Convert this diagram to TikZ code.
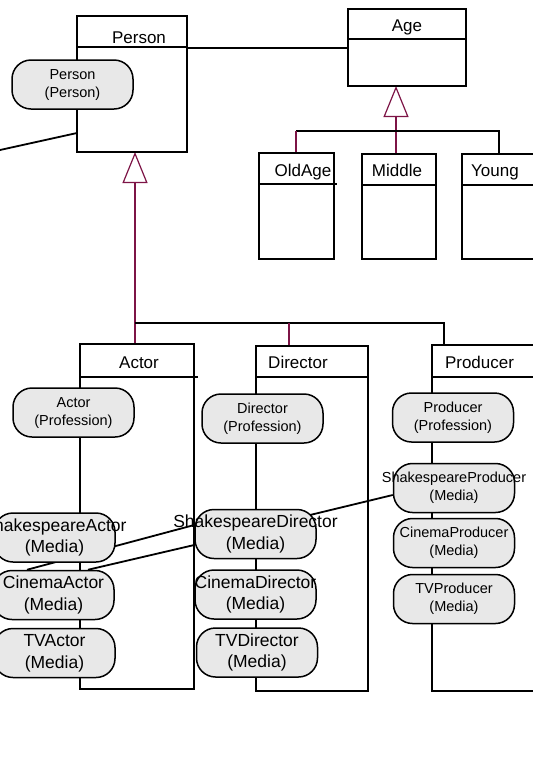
\documentclass[tikz,border=0pt]{standalone}
\usepackage{fontspec}
\setmainfont{Liberation Sans}
\usetikzlibrary{arrows.meta,calc}
\pgfdeclarelayer{back}
\pgfsetlayers{back,main}

\definecolor{genred}{RGB}{125,20,70}
\definecolor{rolefill}{RGB}{232,232,232}

\newcommand\titlefont{\fontsize{17}{20}\selectfont}
\newcommand\rolefont{\fontsize{14.5}{18}\selectfont}
\newcommand\mediafont{\fontsize{17.5}{21.5}\selectfont}
% two centred lines that may overflow the rounded box
\newcommand\twoline[2]{\makebox[0pt]{\begin{tabular}{@{}c@{}}#1\\#2\end{tabular}}}

\tikzset{
  classbox/.style={draw, line width=1.9pt, anchor=north west, inner sep=0pt, outer sep=0pt},
  hdr/.style={line width=1.9pt},
  ttl/.style={anchor=base, inner sep=0pt, font=\titlefont},
  role/.style={draw, line width=1.5pt, fill=rolefill, rounded corners=19pt,
    minimum width=121pt, minimum height=49pt, inner sep=0pt, font=\rolefont},
  media/.style={role, font=\mediafont},
  assoc/.style={line width=1.8pt},
  genline/.style={draw=genred, line width=1.2pt},
  genhead/.style={genline, -{Triangle[length=31pt, width=25pt, fill=white]}},
}

\begin{document}
\begin{tikzpicture}[x=1pt,y=-1pt]
\useasboundingbox (0,0) rectangle (533,780);
\clip (0,0) rectangle (533,780);

% ---- classes ----
\node[classbox, minimum width=110pt, minimum height=136pt] (person) at (77,16) {};
\draw[hdr] ($(person.north west)+(0,31)$) -- ($(person.north east)+(0,31)$);
\node[ttl] (personT) at (139,43) {Person};

\node[classbox, minimum width=118pt, minimum height=77pt] (age) at (348,9) {};
\draw[hdr] ($(age.north west)+(0,30)$) -- ($(age.north east)+(0,30)$);
\node[ttl] (ageT) at (407,31) {Age};

\node[classbox, minimum width=75pt, minimum height=106pt] (oldage) at (259,153) {};
\draw[hdr] ($(oldage.north west)+(0,31)$) -- ($(oldage.north east)+(3,31)$);
\node[ttl] (oldageT) at (303,176) {OldAge};

\node[classbox, minimum width=74pt, minimum height=105pt] (middle) at (362,154) {};
\draw[hdr] ($(middle.north west)+(0,31)$) -- ($(middle.north east)+(0,31)$);
\node[ttl] (middleT) at (397,176) {Middle};

\node[classbox, minimum width=100pt, minimum height=105pt] (young) at (462,154) {};
\draw[hdr] ($(young.north west)+(0,31)$) -- ($(young.north east)+(0,31)$);
\node[ttl] (youngT) at (495,176) {Young};

\node[classbox, minimum width=114pt, minimum height=345pt] (actor) at (80,344) {};
\draw[hdr] ($(actor.north west)+(0,33)$) -- ($(actor.north east)+(4,33)$);
\node[ttl] (actorT) at (139,368) {Actor};

\node[classbox, minimum width=112pt, minimum height=345pt] (director) at (256,346) {};
\draw[hdr] ($(director.north west)+(0,31)$) -- ($(director.north east)+(0,31)$);
\node[ttl] (directorT) at (298,368) {Director};

\node[classbox, minimum width=120pt, minimum height=346pt] (producer) at (432,345) {};
\draw[hdr] ($(producer.north west)+(0,32)$) -- ($(producer.north east)+(0,32)$);
\node[ttl] (producerT) at (479.5,368) {Producer};

% ---- roles ----
\node[role] (rPerson) at (72.5,84.5) {\twoline{Person}{(Person)}};
\node[role] (rActor) at (73.5,412.5) {\twoline{Actor}{(Profession)}};
\node[role] (rDirector) at (262.5,418.5) {\twoline{Director}{(Profession)}};
\node[role] (rProducer) at (453,417.5) {\twoline{Producer}{(Profession)}};

\node[media] (shActor) at (54.5,537.5) {\twoline{ShakespeareActor}{(Media)}};
\node[media] (cnActor) at (53.5,595) {\twoline{CinemaActor}{(Media)}};
\node[media] (tvActor) at (54.5,653) {\twoline{TVActor}{(Media)}};

\node[media] (shDirector) at (255.5,534) {\twoline{ShakespeareDirector}{(Media)}};
\node[media] (cnDirector) at (255.5,594.5) {\twoline{CinemaDirector}{(Media)}};
\node[media] (tvDirector) at (257,652.5) {\twoline{TVDirector}{(Media)}};

\node[role] (shProducer) at (454,488) {\twoline{ShakespeareProducer}{(Media)}};
\node[role] (cnProducer) at (454,543) {\twoline{CinemaProducer}{(Media)}};
\node[role] (tvProducer) at (454,599) {\twoline{TVProducer}{(Media)}};

% ---- connectors ----
\begin{pgfonlayer}{back}
  \coordinate (assocY) at (0,48);
  \draw[assoc] (person.east |- assocY) -- (age.west |- assocY);

  \coordinate (leftEnd) at (0,150);
  \draw[assoc] (leftEnd) -- ($(person.south west)+(0,-19)$);

  % Person generalisation
  \draw[genhead] ($(actor.north west)+(55,0)$) -- ($(person.south west)+(58,0)$);
  \coordinate (busL) at (135,323);
  \coordinate (busR) at (444,323);
  \draw[assoc] (busL) -- (busR) -- (busR |- producer.north);
  \draw[genline] ($(director.north west)+(33,0)$) -- ($(director.north west)+(33,-23)$);

  % Age generalisation
  \draw[genhead] ($(middle.north west)+(34,0)$) -- ($(age.south west)+(48,0)$);
  \coordinate (ageBusL) at (296,131);
  \coordinate (ageBusR) at (499,131);
  \draw[assoc] (ageBusL) -- (ageBusR) -- (ageBusR |- young.north);
  \draw[genline] (ageBusL) -- (ageBusL |- oldage.north);

  % links between media roles
  \draw[assoc] ($(cnActor.north)+(-26.5,0)$) -- ($(shDirector.west)+(0,-9)$);
  \draw[assoc] ($(cnActor.north)+(34.5,0)$) -- ($(shDirector.west)+(0,11)$);
  \draw[assoc] ($(shDirector.center)+(54.5,-19)$) -- ($(shProducer.west)+(0,7)$);
\end{pgfonlayer}
\end{tikzpicture}
\end{document}
